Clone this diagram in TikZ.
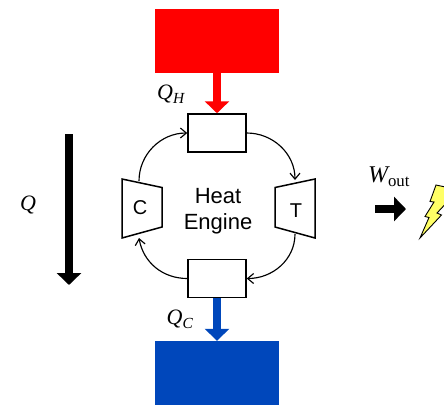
\documentclass[tikz,border=0pt]{standalone}
\usepackage{amsmath}
\usepackage{fontspec}
\setmainfont{Liberation Sans}
\newfontfamily\symbfont{Liberation Serif}
\usepackage{tikz}
\usetikzlibrary{arrows.meta}
\newcommand{\symbit}[1]{\text{\symbfont\itshape #1}}
\newcommand{\symbrm}[1]{\text{\symbfont #1}}
\tikzset{
  reservoir/.style={minimum width=124pt,minimum height=64pt,inner sep=0pt},
  exchanger/.style={draw,line width=1.5pt,minimum width=58pt,minimum height=38pt,inner sep=0pt},
  machine/.style={draw,line width=1.5pt,line join=miter},
  heatflow/.style={line width=8pt,-{Triangle[width=24pt,length=12pt]}},
  cycle/.style={line width=1.15pt,-{Straight Barb[length=6pt,width=10pt]}},
  lbl/.style={inner sep=0pt},
  symb/.style={lbl,font=\fontsize{22}{22}\selectfont}
}
\definecolor{hotred}{HTML}{FF0000}
\definecolor{coldblue}{HTML}{0047BB}
\definecolor{boltyellow}{HTML}{FFFF66}
\begin{document}
\begin{tikzpicture}[x=1pt,y=-1pt]
  \clip (0,0) rectangle (444,405);
  \node (hot)  [reservoir,fill=hotred]   at (217,41)  {};
  \node (cold) [reservoir,fill=coldblue] at (217,373) {};
  \node (top)  [exchanger] at (217,133) {};
  \node (bot)  [exchanger] at (217,278.5) {};
  % compressor and turbine
  \draw[machine] (122,179) -- (162,187.5) -- (162,227) -- (122,238) -- cycle;
  \draw[machine] (315,179) -- (275,187.5) -- (275,227) -- (315,238) -- cycle;
  \node (comp) [lbl,font=\fontsize{20}{20}\selectfont] at (140,208) {C};
  \node (turb) [lbl,font=\fontsize{20}{20}\selectfont] at (296,211) {T};
  \node (engine) [lbl,align=center,font=\fontsize{22}{26}\selectfont] at (218,211) {Heat\\Engine};
  \coordinate (compin)  at (139,238);
  \coordinate (compout) at (139,181);
  \coordinate (turbin)  at (295,180);
  \coordinate (turbout) at (295,234);
  \path[cycle]
    (compout) edge [out=90,in=180] (top.west)
    (top.east) edge [out=0,in=90] (turbin)
    (turbout) edge [out=-90,in=0] (bot.east)
    (bot.west) edge [out=180,in=-80] (compin);
  % heat flows
  \draw[heatflow,hotred] (hot.south) -- (top.north);
  \draw[heatflow,coldblue] (bot.south) -- (cold.north);
  \coordinate (qa) at (69,134);
  \coordinate (qb) at (69,285);
  \draw[heatflow] (qa) -- (qb);
  \coordinate (wa) at (375,209);
  \coordinate (wb) at (406,209);
  \draw[heatflow] (wa) -- (wb);
  \node (qh) [symb] at (171,94)  {$\symbit{Q}_{\symbit{H}}$};
  \node (qc) [symb] at (180,319) {$\symbit{Q}_{\symbit{C}}$};
  \node (q)  [symb] at (28,205)  {$\symbit{Q}$};
  \node (w)  [symb,font=\fontsize{24}{24}\selectfont] at (389,177) {$\symbit{W}_{\symbrm{out}}$};
  % bolt
  \draw[line width=0.9pt,fill=boltyellow,line join=miter]
    (420,238) -- (429,217.5) -- (425,216.5) -- (434,202) -- (430,201.5) -- (436,185)
    -- (450,188) -- (444.5,205) -- (437,213) -- (441.5,215) -- cycle;
\end{tikzpicture}
\end{document}
